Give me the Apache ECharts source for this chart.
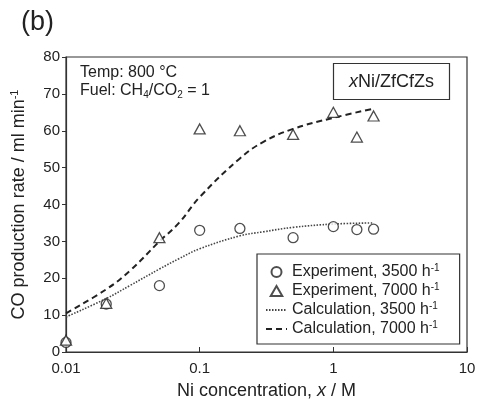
<!DOCTYPE html>
<html>
<head>
<meta charset="utf-8">
<script src="https://cdn.jsdelivr.net/npm/echarts@6/dist/echarts.min.js"></script>
<style>
  html, body { margin: 0; padding: 0; background: #fff; }
  #chart { width: 481px; height: 400px; }
</style>
</head>
<body>
<div id="chart"></div>
<script>
// measured points
var nickelConc = [0.01, 0.02, 0.05, 0.1, 0.2, 0.5, 1, 1.5, 2];
var exp3500 = [2.6, 13, 18, 33, 33.5, 31, 34, 33.2, 33.3];
var exp7000 = [3.2, 13.2, 31, 60.5, 60, 59, 65, 58.3, 64];

// calculated curves
var calcConc = [0.01, 0.02, 0.03, 0.05, 0.07, 0.1, 0.2, 0.3, 0.5, 1, 2];
var calc3500 = [9.5, 14.5, 18, 22.5, 25.3, 28, 31.5, 32.6, 33.8, 34.7, 35];
var calc7000 = [10.5, 17, 22, 30, 35, 42, 52.5, 57, 60.5, 63.5, 66];

var xTicks = [0.01, 0.1, 1, 10];
var yTicks = [0, 10, 20, 30, 40, 50, 60, 70, 80];

function pairs(xs, ys) {
  return xs.map(function (x, i) { return [x, ys[i]]; });
}

var font = 'Liberation Sans, Arial, sans-serif';
var ink = '#222';

var chart = echarts.init(document.getElementById('chart'));
var option = {
  animation: false,
  textStyle: { fontFamily: font, color: ink },
  title: [
    { text: '(b)', left: 21, top: 9, padding: 0, textStyle: { fontSize: 27, fontWeight: 'normal', color: ink, fontFamily: font } },
    {
      text: 'Temp: 800 °C\nFuel: CH{sub|4}/CO{sub|2} = 1',
      left: 80, top: 64, padding: 0,
      textStyle: {
        fontSize: 16, fontWeight: 'normal', color: ink, fontFamily: font, lineHeight: 18,
        rich: { sub: { fontSize: 10, verticalAlign: 'bottom', padding: [6, 0, 0, 0], fontFamily: font, color: ink } }
      }
    },
    {
      text: '{i|x}Ni/ZfCfZs',
      left: 333, top: 63, padding: [10, 16, 9, 16],
      borderColor: '#333', borderWidth: 1.2,
      textStyle: {
        fontSize: 18, fontWeight: 'normal', color: ink, fontFamily: font,
        rich: { i: { fontStyle: 'italic', fontSize: 18, fontFamily: font, color: ink } }
      }
    }
  ],
  legend: {
    orient: 'vertical',
    left: 257, top: 254,
    padding: [9, 20, 6, 8],
    itemGap: 1,
    itemWidth: 21, itemHeight: 10,
    symbolKeepAspect: true,
    borderColor: '#333', borderWidth: 1.2,
    data: [
      { name: 'Experiment, 3500' },
      { name: 'Experiment, 7000', icon: 'path://M5,0L10,8.66L0,8.66Z' },
      { name: 'Calculation, 3500' },
      { name: 'Calculation, 7000' }
    ],
    formatter: function (name) { return name + ' h{s|-1}'; },
    textStyle: {
      fontSize: 16, color: ink, fontFamily: font, lineHeight: 18,
      rich: { s: { fontSize: 10, verticalAlign: 'top', padding: [0, 0, 8, 0], fontFamily: font, color: ink } }
    }
  },
  grid: {
    left: 66, right: 14, top: 57, bottom: 48,
    outerBoundsMode: 'none',
    show: true, borderColor: '#333', borderWidth: 1.2
  },
  xAxis: {
    type: 'log', logBase: 10, min: xTicks[0], max: xTicks[xTicks.length - 1],
    name: 'Ni concentration, {i|x} / M',
    nameLocation: 'middle', nameGap: 30,
    nameTextStyle: { fontSize: 18, color: ink, fontFamily: font, rich: { i: { fontStyle: 'italic', fontSize: 18, fontFamily: font, color: ink } } },
    axisLine: { lineStyle: { color: '#333', width: 1.2 } },
    axisTick: { inside: true, length: 5, lineStyle: { color: '#333' } },
    minorTick: { show: false },
    splitLine: { show: false },
    axisLabel: {
      fontSize: 15, color: ink, margin: 9,
      formatter: function (v) { return String(v); }
    }
  },
  yAxis: {
    type: 'value', min: yTicks[0], max: yTicks[yTicks.length - 1], interval: 10,
    name: 'CO production rate / ml min{s|-1}',
    nameLocation: 'middle', nameGap: 37, nameRotate: 90,
    nameTextStyle: { fontSize: 18, color: ink, fontFamily: font, rich: { s: { fontSize: 11, verticalAlign: 'top', padding: [0, 0, 9, 0], fontFamily: font, color: ink } } },
    axisLine: { lineStyle: { color: '#333', width: 1.2 } },
    axisTick: { inside: false, length: 4, lineStyle: { color: '#333' } },
    splitLine: { show: false },
    axisLabel: { fontSize: 15, color: ink, margin: 6 }
  },
  series: [
    {
      name: 'Experiment, 3500', type: 'scatter', symbol: 'circle', symbolSize: 10,
      itemStyle: { color: '#fff', borderColor: '#222', borderWidth: 1.3 },
      data: pairs(nickelConc, exp3500), z: 5
    },
    {
      name: 'Experiment, 7000', type: 'scatter', symbol: 'path://M5,0L10,8.66L0,8.66Z', symbolSize: [11, 10],
      itemStyle: { color: '#fff', borderColor: '#222', borderWidth: 1.3 },
      data: pairs(nickelConc, exp7000), z: 6
    },
    {
      name: 'Calculation, 3500', type: 'line', smooth: 0.4, symbol: 'none',
      lineStyle: { color: '#444', width: 1.6, type: [1.5, 1.5] },
      itemStyle: { color: '#444', opacity: 0 },
      data: pairs(calcConc, calc3500)
    },
    {
      name: 'Calculation, 7000', type: 'line', smooth: 0.4, symbol: 'none',
      lineStyle: { color: '#222', width: 2, type: [6, 4] },
      itemStyle: { color: '#222', opacity: 0 },
      data: pairs(calcConc, calc7000)
    }
  ]
};
chart.setOption(option);
</script>
</body>
</html>
